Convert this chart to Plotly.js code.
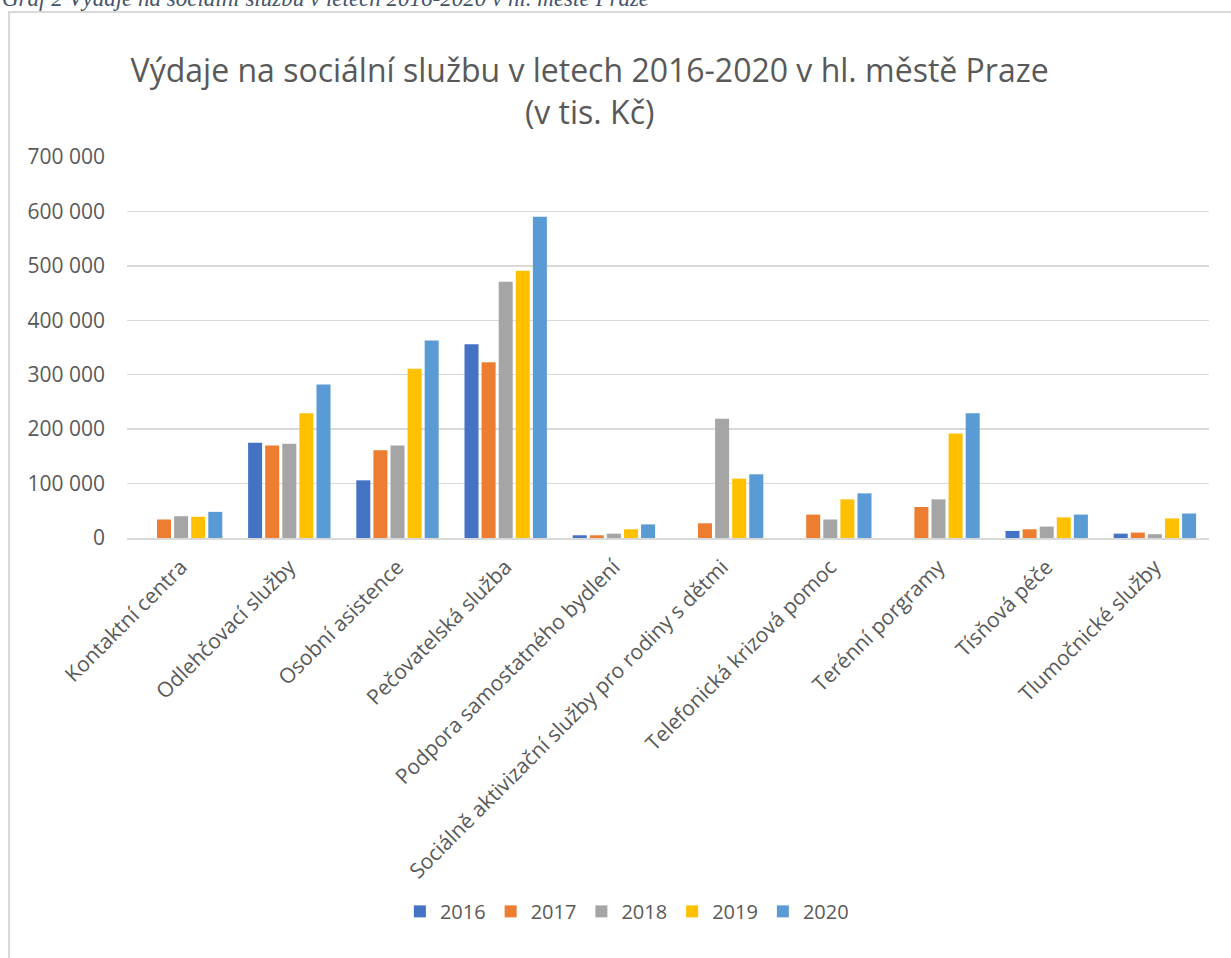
<!DOCTYPE html>
<html>
<head>
<meta charset="utf-8">
<script src="https://cdn.plot.ly/plotly-3.0.1.min.js"></script>
<style>
html,body{margin:0;padding:0;background:#fff;overflow:hidden;}
#frame{position:absolute;left:8px;top:11px;width:1300px;height:1000px;border-left:2px solid #d9d9d9;border-top:2px solid #d9d9d9;}
#chart{position:absolute;left:0;top:0;width:1231px;height:958px;}
</style>
</head>
<body>
<div id="frame"></div>
<div id="chart"></div>
<script>
const categories = [
  "Kontaktní centra",
  "Odlehčovací služby",
  "Osobní asistence",
  "Pečovatelská služba",
  "Podpora samostatného bydlení",
  "Sociálně aktivizační služby pro rodiny s dětmi",
  "Telefonická krizová pomoc",
  "Terénní porgramy",
  "Tísňová péče",
  "Tlumočnické služby"
];
const years = ["2016", "2017", "2018", "2019", "2020"];
const v2016 = [null, 175000, 106000, 356000, 5000, null, null, null, 13000, 8000];
const v2017 = [34000, 170000, 161000, 323000, 5000, 27000, 43000, 57000, 16000, 10000];
const v2018 = [40000, 173000, 170000, 471000, 8000, 219000, 34000, 71000, 21000, 7000];
const v2019 = [39000, 229000, 311000, 491000, 16000, 109000, 71000, 192000, 38000, 36000];
const v2020 = [48000, 282000, 363000, 590000, 25000, 117000, 82000, 229000, 43000, 45000];
const yTicks = [0, 100000, 200000, 300000, 400000, 500000, 600000, 700000];
const titleText = "Výdaje na sociální službu v letech 2016-2020 v hl. městě Praze<br>(v tis. Kč)";
const captionText = "Graf 2 Výdaje na sociální službu v letech 2016-2020 v hl. městě Praze";

const series = [v2016, v2017, v2018, v2019, v2020];
const colors = ["#4472C4", "#ED7D31", "#A5A5A5", "#FFC000", "#5B9BD5"];

const traces = series.map((vals, i) => ({
  type: "bar",
  name: years[i],
  x: categories,
  y: vals,
  marker: {color: colors[i]},
  hoverinfo: "x+y+name"
}));

const layout = {
  width: 1231,
  height: 958,
  margin: {l: 127, r: 22, t: 157, b: 420},
  paper_bgcolor: "rgba(0,0,0,0)",
  plot_bgcolor: "rgba(0,0,0,0)",
  separators: ", ",
  barmode: "group",
  bargap: 0.21,
  bargroupgap: 0.18,
  font: {family: "Open Sans, sans-serif", color: "#595959"},
  title: {
    text: titleText,
    font: {size: 32, color: "#595959", family: "Open Sans, sans-serif"},
    x: 0.479, xanchor: "center", xref: "container",
    y: 0.914, yanchor: "top", yref: "container"
  },
  xaxis: {
    type: "category",
    tickangle: -45,
    tickfont: {size: 21, color: "#595959"},
    showgrid: false,
    showline: true,
    linecolor: "#d9d9d9",
    linewidth: 1.5,
    ticks: "",
    ticklabelstandoff: 7,
    automargin: false
  },
  yaxis: {
    range: [0, 700000],
    tickvals: yTicks,
    tickformat: ",d",
    tickfont: {size: 21, color: "#595959"},
    showgrid: true,
    gridcolor: "#d9d9d9",
    gridwidth: 1.5,
    zeroline: false,
    showline: false,
    ticks: "",
    ticklabelstandoff: 21,
    automargin: false
  },
  legend: {
    orientation: "h",
    x: 0.462, xanchor: "center",
    y: -0.98, yanchor: "middle",
    font: {size: 20, color: "#595959"},
    traceorder: "normal"
  },
  annotations: [{
    text: "<i>" + captionText + "</i>",
    xref: "paper", yref: "paper",
    x: -0.1174, xanchor: "left",
    y: 1.378, yanchor: "bottom",
    showarrow: false,
    font: {family: "Liberation Serif, serif", size: 23, color: "#44546A"}
  }]
};

Plotly.newPlot("chart", traces, layout, {displayModeBar: false, staticPlot: true});
</script>
</body>
</html>
